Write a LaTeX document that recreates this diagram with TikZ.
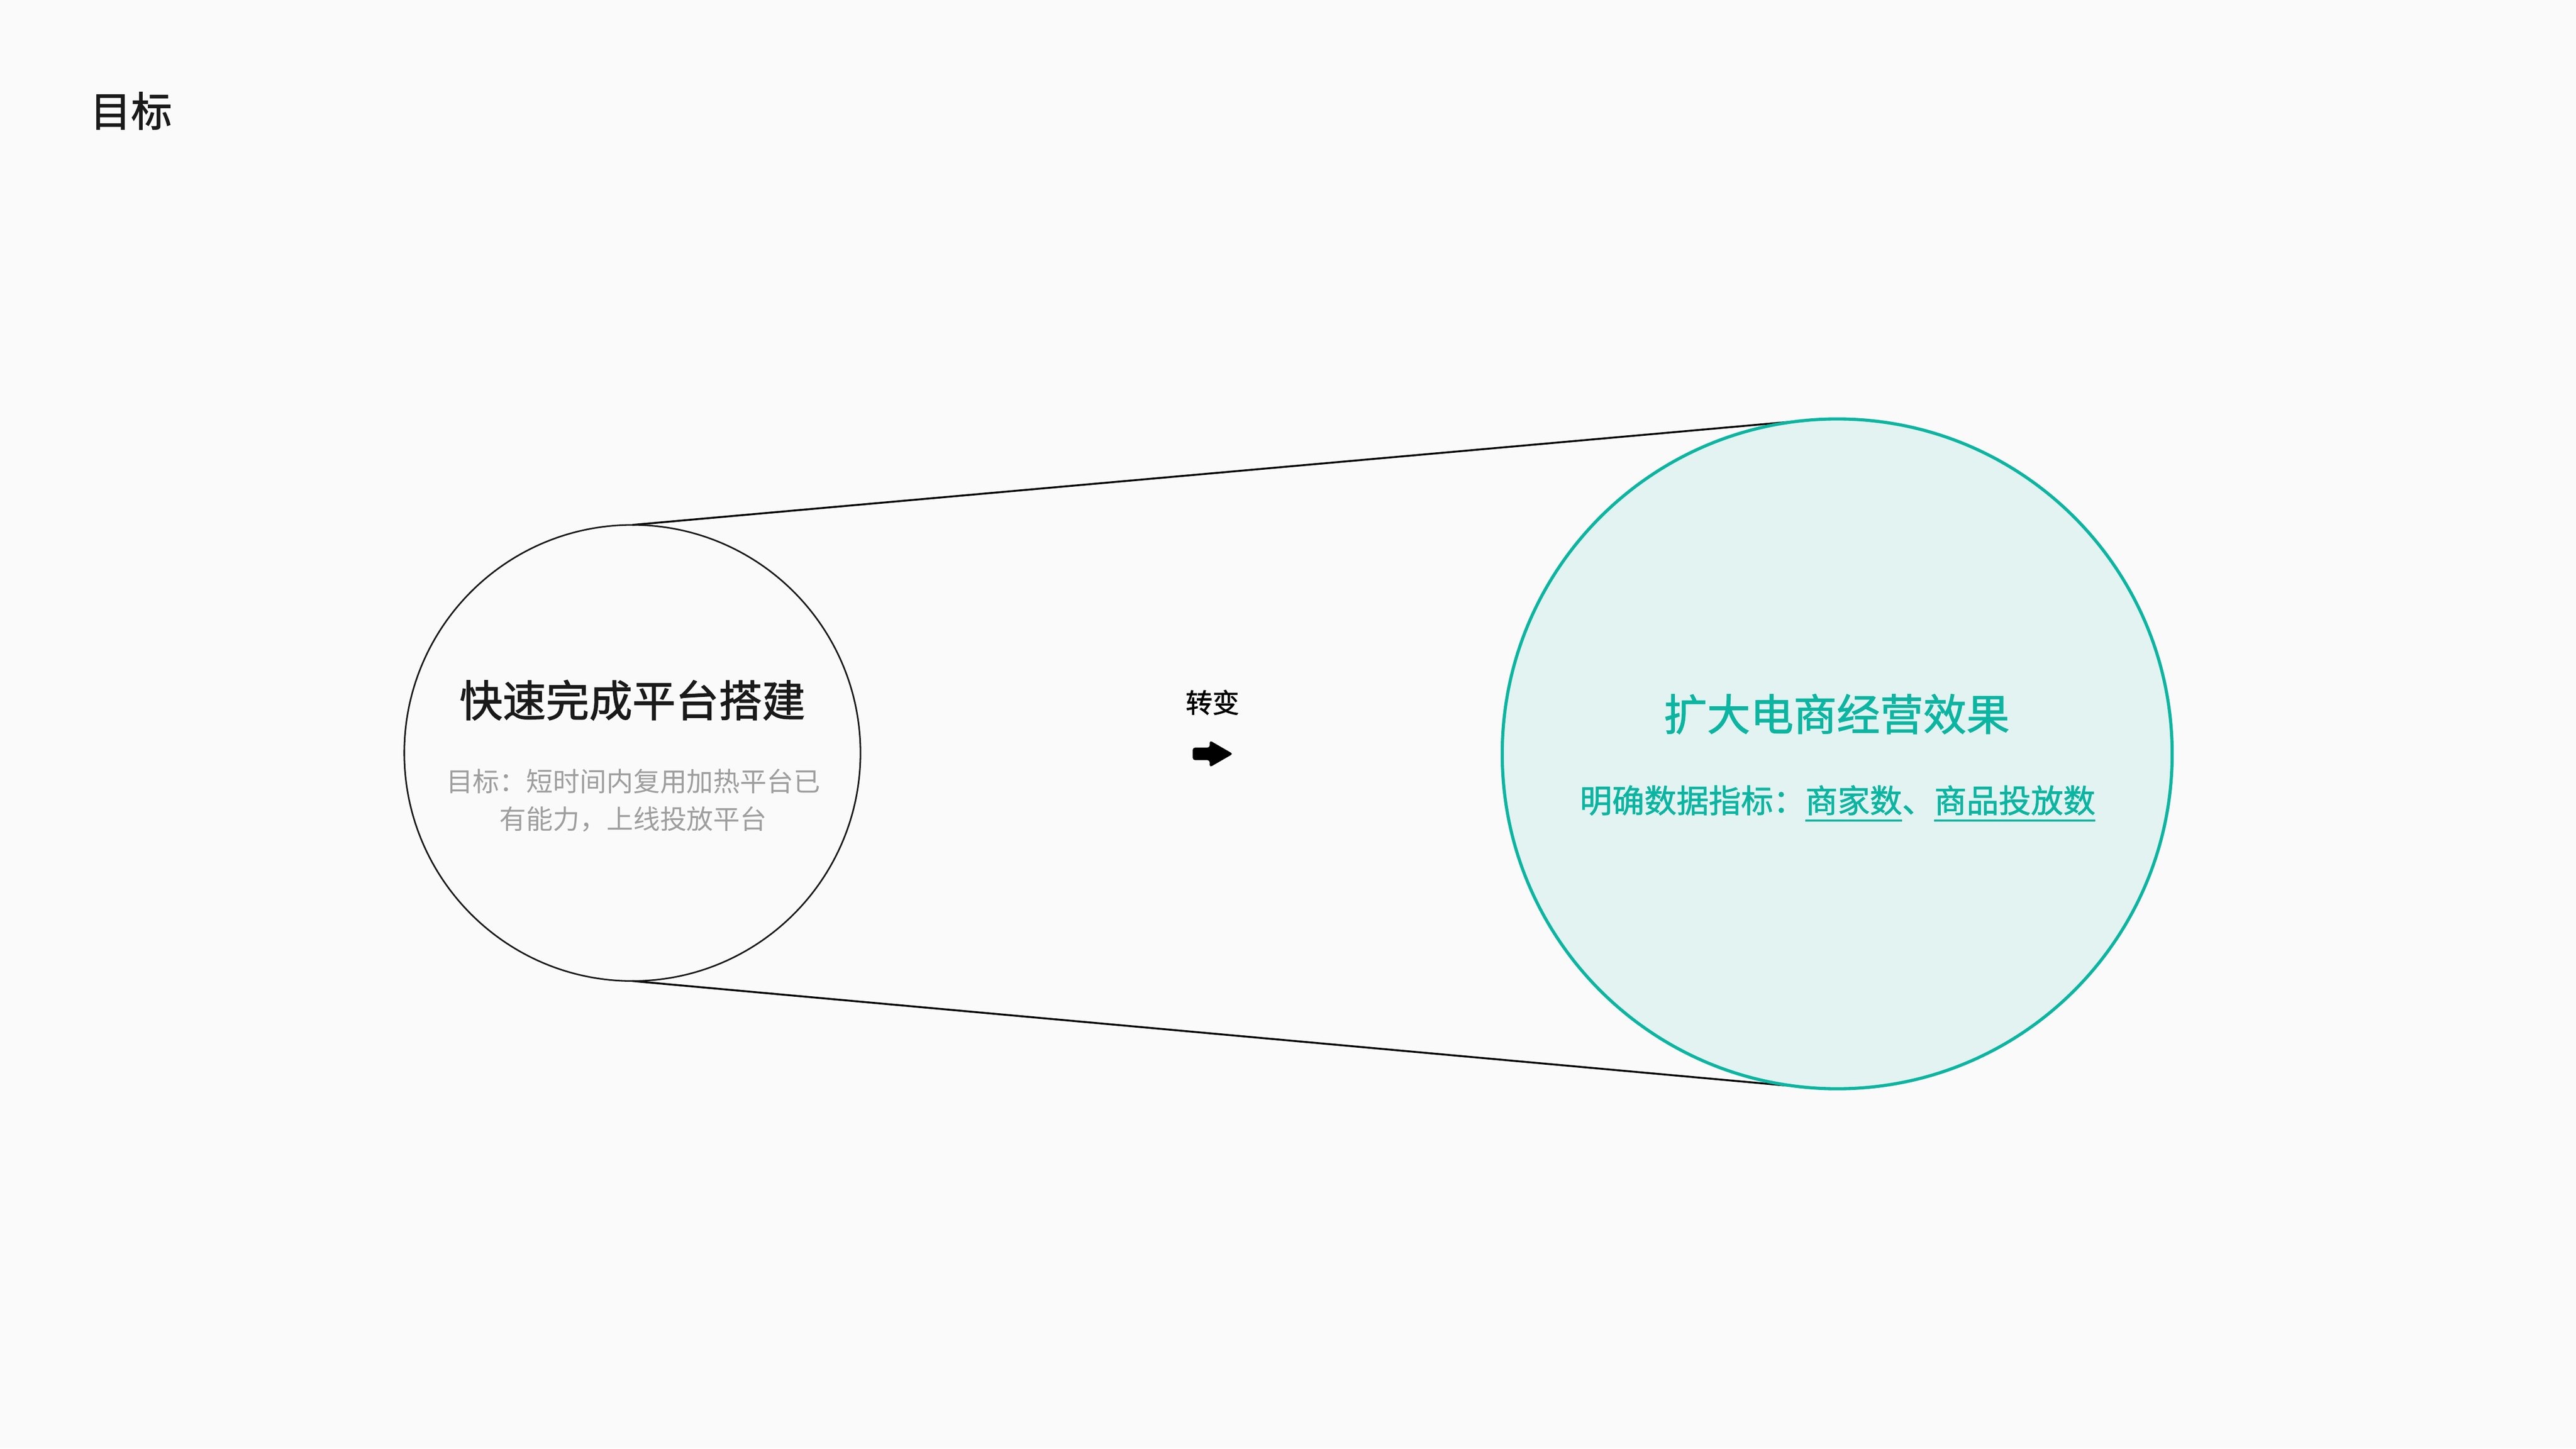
\documentclass[tikz,border=0pt]{standalone}
\usepackage{fontspec}
\setmainfont{Noto Sans CJK SC}
\newfontfamily\cjkmid{Noto Sans CJK SC}[FakeBold=1.5]
\usepackage{tikz}
\usetikzlibrary{backgrounds}
\tikzset{
every picture/.style={
line width=1pt
}}
\definecolor{tealline}{RGB}{12,181,161}
\definecolor{tealfill}{RGB}{226,243,241}
\definecolor{pagebg}{RGB}{250,250,250}
\definecolor{notegray}{RGB}{158,158,158}
\definecolor{inkblack}{RGB}{26,26,26}
% underlined metric name
\newcommand{\metricline}[1]{\setbox0\hbox{#1}\rlap{\rule[-5.8pt]{\wd0}{1.4pt}}\box0}

\begin{document}
\begin{tikzpicture}[
circ/.style = {circle, inner sep=0pt, outer sep=0pt},
head/.style = {font=\cjkmid\fontsize{27.5pt}{32pt}\selectfont},
note/.style = {font=\fontsize{17pt}{24pt}\selectfont, text=notegray, align=center}]
\node[font=\cjkmid\fontsize{26pt}{30pt}\selectfont, text=inkblack] at (2.93,29.92) (title) {目标};
\node[circ, draw=inkblack, minimum size=10.2cm] at (14.14,15.56) (c1) {};
\node[circ, draw=tealline, fill=tealfill, line width=2pt, minimum size=14.98cm] at (41.08,15.54) (c2) {};
\begin{pgfonlayer}{background}
\fill[pagebg] (0,0) rectangle (57.6,32.4);
\draw[line width=1.2pt] (c1.north) -- (c2.95);
\draw[line width=1.2pt] (c1.south) -- (c2.-95);
\end{pgfonlayer}
\node[head, text=inkblack] at (14.14,16.74) (h1) {快速完成平台搭建};
\node[note] at (14.16,14.50) (n1) {目标：短时间内复用加热平台已\\有能力，上线投放平台};
\node[font=\cjkmid\fontsize{17pt}{20pt}\selectfont, text=black] at (27.11,16.69) (turn) {转变};
\fill[shift={(27.12,15.54)}, rounded corners=1.5pt] (-0.45,-0.14) -- (-0.45,0.14) -- (-0.07,0.14)
  -- (-0.07,0.30) -- (0.45,0) -- (-0.07,-0.30) -- (-0.07,-0.14) -- cycle;
\node[head, text=tealline] at (41.07,16.43) (h2) {扩大电商经营效果};
\node[font=\cjkmid\fontsize{20.5pt}{24pt}\selectfont, text=tealline] at (41.09,14.43) (n2)
  {明确数据指标：\metricline{商家数}、\metricline{商品投放数}};
\end{tikzpicture}
\end{document}
